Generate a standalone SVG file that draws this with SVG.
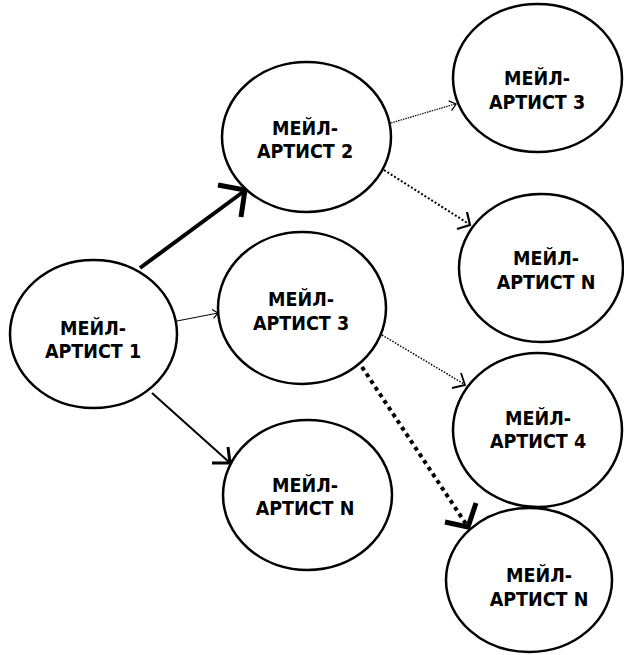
<svg xmlns="http://www.w3.org/2000/svg" width="624" height="655" viewBox="0 0 624 655">
<style>
.node ellipse{fill:#fff;stroke:#000;stroke-width:2.5}
.node text{font-family:"DejaVu Sans Condensed","Liberation Sans",sans-serif;font-weight:bold;font-size:19.5px;fill:#000;text-anchor:middle}
.c{fill:none;stroke:#000;stroke-linecap:butt;stroke-linejoin:miter}
</style>
<rect width="624" height="655" fill="#fff"/>
<g id="connectors">
  <g id="e1"><line class="c" x1="140" y1="268" x2="243" y2="192" stroke-width="4"/><polyline class="c" points="218,185 245,190 241,217" stroke-width="5"/></g>
  <g id="e2"><line class="c" x1="177" y1="321" x2="218" y2="313" stroke-width="1"/><polyline class="c" points="212,309.6 218,313 213.6,318.4" stroke-width="1.2"/></g>
  <g id="e3"><line class="c" x1="152" y1="393" x2="229" y2="462" stroke-width="2"/><polyline class="c" points="212,463 230,463 228,447" stroke-width="3"/></g>
  <g id="e4"><line class="c" x1="391" y1="123" x2="455" y2="104" stroke-width="1.2" stroke-dasharray="1.5 1"/><polyline class="c" points="448.7,100.8 456,104 451.6,110.6" stroke-width="1.3"/></g>
  <g id="e5"><line class="c" x1="384" y1="170" x2="469" y2="224" stroke-width="2" stroke-dasharray="2 2"/><polyline class="c" points="457,229 470,225 467,212" stroke-width="2.2"/></g>
  <g id="e6"><line class="c" x1="382" y1="335" x2="464" y2="384" stroke-width="1.5" stroke-dasharray="1.5 1.5"/><polyline class="c" points="452,388 465,385 461,373" stroke-width="1.8"/></g>
  <g id="e7"><line class="c" x1="362" y1="367" x2="466" y2="524" stroke-width="4" stroke-dasharray="4 4"/><polyline class="c" points="445,522 468,527 476,503" stroke-width="5"/></g>
</g>
<g id="n1" class="node"><ellipse cx="93.5" cy="334" rx="83.5" ry="74"/><text x="93" y="335">МЕЙЛ-</text><text x="93" y="358">АРТИСТ 1</text></g>
<g id="n2" class="node"><ellipse cx="306.5" cy="137" rx="84.5" ry="75"/><text x="305" y="135">МЕЙЛ-</text><text x="305" y="158">АРТИСТ 2</text></g>
<g id="n3" class="node"><ellipse cx="302" cy="308" rx="84" ry="76"/><text x="301" y="306">МЕЙЛ-</text><text x="301" y="330">АРТИСТ 3</text></g>
<g id="nN" class="node"><ellipse cx="307.5" cy="495" rx="84.5" ry="75"/><text x="305" y="492">МЕЙЛ-</text><text x="305" y="515">АРТИСТ N</text></g>
<g id="tr3" class="node"><ellipse cx="537.5" cy="78" rx="84.5" ry="74"/><text x="537" y="85">МЕЙЛ-</text><text x="537" y="109">АРТИСТ 3</text></g>
<g id="r2N" class="node"><ellipse cx="541" cy="268" rx="82" ry="74"/><text x="546" y="265">МЕЙЛ-</text><text x="546" y="289">АРТИСТ N</text></g>
<g id="r4" class="node"><ellipse cx="537.5" cy="430" rx="84.5" ry="77"/><text x="538" y="425">МЕЙЛ-</text><text x="538" y="448">АРТИСТ 4</text></g>
<g id="rN" class="node"><ellipse cx="529" cy="580" rx="83" ry="72"/><text x="539" y="582">МЕЙЛ-</text><text x="539" y="606">АРТИСТ N</text></g>
</svg>
